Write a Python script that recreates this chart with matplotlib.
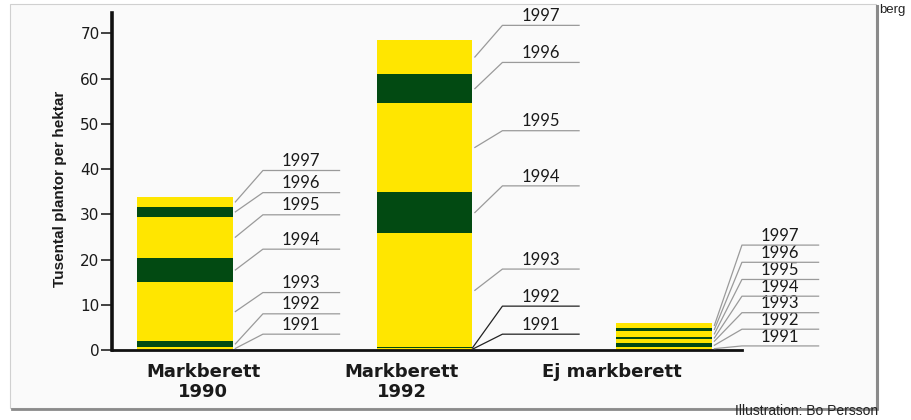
import matplotlib.pyplot as plt
from matplotlib.patches import Rectangle

# Data (thousands of plants per hectare, per year layer)
categories = ['Markberett\n1990', 'Markberett\n1992', 'Ej markberett']
years = ['1991', '1992', '1993', '1994', '1995', '1996', '1997']
markberett_1990 = [0.7, 1.3, 13.0, 5.4, 9.1, 2.1, 2.3]
markberett_1992 = [0.35, 0.25, 25.2, 9.2, 19.6, 6.4, 7.6]
ej_markberett = [0.6, 0.9, 0.9, 0.55, 1.25, 0.7, 1.1]
series = [markberett_1990, markberett_1992, ej_markberett]

# heights of the label lines next to each bar (1991 -> 1997)
label_heights = [
    [3.5, 8.0, 12.7, 22.3, 29.9, 34.8, 39.7],
    [3.5, 9.7, 17.9, 36.3, 48.5, 63.6, 71.8],
    [0.9, 4.6, 8.25, 11.9, 15.6, 19.4, 23.2],
]
yticks = [0, 10, 20, 30, 40, 50, 60, 70]

YELLOW = '#ffe600'
GREEN = '#024a12'
W, H = 911, 420

fig = plt.figure(figsize=(W / 100, H / 100), dpi=100)
fig.patch.set_facecolor('white')

# framed panel with a little shadow on right/bottom
fig.patches.append(Rectangle((10 / W, 1 - 408 / H), 866 / W, 404 / H,
                             transform=fig.transFigure, facecolor='#fafafa',
                             edgecolor='#d0d0d0', linewidth=0.8, zorder=-5))
fig.add_artist(plt.Line2D([877 / W, 877 / W], [1 - 408 / H, 1 - 6 / H],
                          transform=fig.transFigure, color='#8a8a8a', lw=2.2,
                          zorder=-4))
fig.add_artist(plt.Line2D([12 / W, 877 / W], [1 - 409 / H, 1 - 409 / H],
                          transform=fig.transFigure, color='#8a8a8a', lw=2.0,
                          zorder=-4))

ax = fig.add_axes([112 / W, 70 / H, (741.7 - 112) / W, (350 - 12.7) / H])
ax.patch.set_alpha(0)
ax.set_xlim(-0.305, 2.324)
ax.set_ylim(0, 74.6)

for s in ['top', 'right']:
    ax.spines[s].set_visible(False)
ax.spines['left'].set_linewidth(2.6)
ax.spines['bottom'].set_linewidth(2.0)
ax.spines['left'].set_color('#111111')
ax.spines['bottom'].set_color('#111111')

ax.set_xticks([])
ax.set_yticks(yticks)
ax.tick_params(axis='y', length=8, width=1.3, color='#333333', pad=1,
               labelsize=11, labelcolor='#1a1a1a')

for i, vals in enumerate(series):
    bottom = 0
    for j, v in enumerate(vals):
        col = YELLOW if j % 2 == 0 else GREEN
        ax.bar(i, v, 0.40, bottom=bottom, color=col, linewidth=0, zorder=2)
        mid = bottom + v / 2
        ly = label_heights[i][j]
        lc = '#222222' if (i == 1 and j < 2) else '#9a9a9a'
        x0 = i + 0.20 if (i == 1 and j < 2) else i + 0.21
        ax.plot([x0, i + 0.325, i + 0.645], [mid, ly, ly], color=lc, lw=0.9,
                clip_on=False, zorder=3)
        ax.text(i + 0.485, ly + 0.3, years[j], ha='center', va='bottom',
                fontsize=12, color='#1a1a1a', family='Lato')
        bottom += v

# category labels (slightly offset from bar centres, as in the original)
cat_x = [203, 402, 612]
for cx, lab in zip(cat_x, categories):
    fig.text(cx / W, 1 - 363 / H, lab, ha='center', va='top', fontsize=13,
             fontweight='bold', color='#1a1a1a', linespacing=1.15,
             family='DejaVu Sans')

fig.text(60 / W, 1 - 188.5 / H, 'Tusental plantor per hektar', rotation=90,
         ha='center', va='center', fontsize=11, fontweight='bold',
         color='#1a1a1a', family='Liberation Sans')

fig.text(879 / W, 1 - 10 / H, 'berg', ha='left', va='center', fontsize=9.5,
         color='#222222', family='Liberation Sans')
fig.text(878 / W, 1 - 411 / H, 'Illustration: Bo Persson', ha='right',
         va='center', fontsize=10, color='#222222', family='Liberation Sans')

fig.savefig('out.png', dpi=100)
